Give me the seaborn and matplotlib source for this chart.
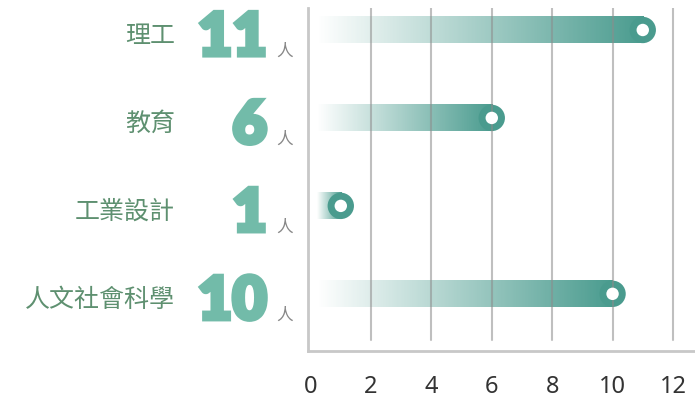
import numpy as np
import pandas as pd
import matplotlib
matplotlib.use("Agg")
import matplotlib.pyplot as plt
import matplotlib.patheffects as pe
import seaborn as sns
from matplotlib.colors import LinearSegmentedColormap

categories = ["理工", "教育", "工業設計", "人文社會科學"]
values = [11, 6, 1, 10]
xticks = [0, 2, 4, 6, 8, 10, 12]
unit = "人"

teal = "#4a9b8e"
label_green = "#5e9070"
number_green = "#72bba9"

sns.set_style("white")
plt.rcParams['font.family'] = ['Noto Sans CJK TC', 'DejaVu Sans']

df = pd.DataFrame({"cat": categories, "val": values})

fig = plt.figure(figsize=(6.95, 4.03), dpi=100)
ax = fig.add_axes([308/695, 1-351/403, 1-308/695, (351-8)/403])

# invisible bars, only to get the category scale and bar boxes
sns.barplot(data=df, x="val", y="cat", orient="h", width=0.3,
            color="white", alpha=0, ax=ax)

cmap = LinearSegmentedColormap.from_list(
    "fade", [(0.29, 0.61, 0.56, 0.0), (0.29, 0.61, 0.56, 1.0)])
grad = np.linspace(0, 1, 256).reshape(1, -1)
for p in ax.patches:
    x0, y0 = p.get_x(), p.get_y()
    w, h = p.get_width(), p.get_height()
    ax.imshow(grad, cmap=cmap, aspect="auto", interpolation="bicubic",
              extent=(x0 + 0.2, x0 + w, y0 + h, y0), zorder=2)

# rounded end cap and white dot
sns.scatterplot(data=df, x="val", y="cat", s=360, color=teal,
                edgecolor="none", ax=ax, zorder=3)
for x in xticks[1:]:
    ax.axvline(x, ymin=0.032, ymax=1, color="#8c8c8c", alpha=0.55,
               lw=1.5, zorder=4)
sns.scatterplot(data=df, x="val", y="cat", s=80, color="white",
                edgecolor="none", ax=ax, zorder=6)

ax.set_xlim(-0.086, 12.73)
ax.set_ylim(3.65, -0.25)
ax.set_xticks(xticks)
ax.set_xticklabels([str(t) for t in xticks], fontsize=17, color="#333333",
                   family=["Noto Sans", "DejaVu Sans"])
ax.tick_params(axis="x", length=0, pad=17)
ax.set_yticks([])
ax.set_xlabel("")
ax.set_ylabel("")

for s in ["top", "right"]:
    ax.spines[s].set_visible(False)
for s in ["left", "bottom"]:
    ax.spines[s].set_color("#c8c8c8")
    ax.spines[s].set_linewidth(2)

tr = ax.get_yaxis_transform()
heavy = [pe.withStroke(linewidth=3, foreground=number_green,
                       joinstyle="miter")]
for i, (c, v) in enumerate(zip(categories, values)):
    ax.text(-0.344, i + 0.07, c, transform=tr, ha="right", va="center",
            fontsize=18, color=label_green, clip_on=False)
    ax.text(-0.106, i + 0.29, str(v), transform=tr, ha="right",
            va="baseline", fontsize=43, fontweight="heavy",
            color=number_green, family=["Lato", "Roboto", "DejaVu Sans"],
            path_effects=heavy, clip_on=False)
    ax.text(-0.083, i + 0.29, unit, transform=tr, ha="left", va="baseline",
            fontsize=12, color="#888888", clip_on=False)

fig.savefig("out.png", dpi=100)
